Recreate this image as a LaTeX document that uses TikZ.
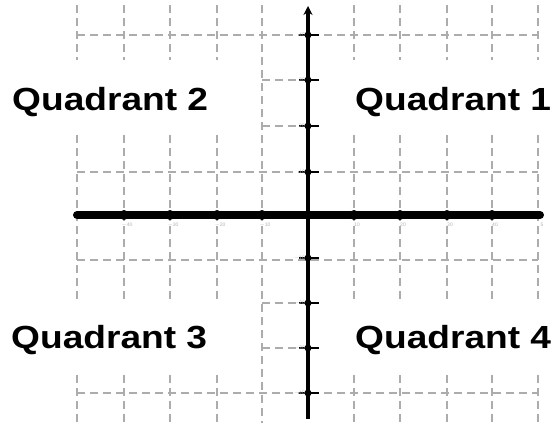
\documentclass[tikz,border=0pt]{standalone}
\usepackage{fontspec}
\setmainfont{Liberation Sans}
\usetikzlibrary{arrows.meta}
\begin{document}
\begin{tikzpicture}[x=1pt,y=-1pt,
  gridline/.style={draw=gray!65, line width=1.2pt, dash pattern=on 8pt off 5pt},
  quad/.style={font=\bfseries\fontsize{32}{32}\selectfont, inner sep=0pt, anchor=base west},
  ticklab/.style={font=\fontsize{5}{5}\selectfont, text=gray!60, inner sep=0pt},
  axisx/.style={line width=8pt, line cap=round},
  axisy/.style={line width=3.5pt, -{Stealth[length=9pt,width=9pt]}},
  ytick/.style={line width=1.5pt}]
\useasboundingbox (0,0) rectangle (556,423);
\fill[white] (0,0) rectangle (556,423);
% grid
\foreach \x in {77,124,170,217,354,400,447,492,538} {
  \draw[gridline] (\x,5) -- (\x,60);
  \draw[gridline] (\x,135) -- (\x,300);
  \draw[gridline] (\x,375) -- (\x,423);
}
\draw[gridline] (262,5) -- (262,423);
\foreach \y in {35,172,260,393} \draw[gridline] (77,\y) -- (538,\y);
\foreach \y in {80,126,303,348} \draw[gridline] (262,\y) -- (304,\y);
% axes
\coordinate (xl) at (77,215);
\coordinate (xr) at (540,215);
\coordinate (yb) at (308,419);
\coordinate (yt) at (308,6);
\draw[axisx] (xl) -- (xr);
\draw[axisy] (yb) -- (yt);
\foreach \x in {124,170,217,262,354,400,447,492} \fill (\x,215) circle (5);
\foreach \y in {35,80,126,172,258,303,348,393} {
  \draw[ytick] (299,\y) -- (319,\y);
  \fill (308,\y) circle (3.5);
}
% tick labels
\foreach \x/\t in {124/$-$40,170/$-$30,217/$-$20,262/$-$10,354/10,400/20,447/30,492/40,539/5}
  \node[ticklab] at (\x+3,225) {\t};
\foreach \y/\t in {35/40,80/30,126/20,172/10,258/$-$10,303/$-$20,348/$-$30,393/$-$40}
  \node[ticklab, anchor=east] at (305,\y) {\t};
% quadrant labels
\node[quad] (q2) at (12,110) {\scalebox{1.16}[1]{Quadrant 2}};
\node[quad] (q1) at (355,110) {\scalebox{1.16}[1]{Quadrant 1}};
\node[quad] (q3) at (11,348) {\scalebox{1.16}[1]{Quadrant 3}};
\node[quad] (q4) at (355,348) {\scalebox{1.16}[1]{Quadrant 4}};
\end{tikzpicture}
\end{document}
